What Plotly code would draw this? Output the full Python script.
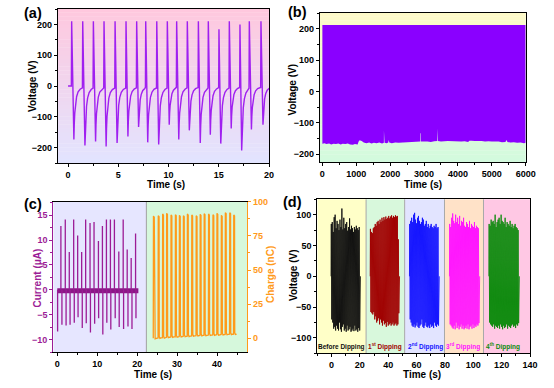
import plotly.graph_objects as go

FONT = "Liberation Sans, Arial, sans-serif"

# ---------------- data: panel (a) ----------------
a_pos_t = [0.36, 1.46, 2.52, 3.58, 4.68, 5.77, 6.83, 7.73, 8.83, 9.88, 10.81, 11.87, 12.97, 13.96, 15.02, 16.05, 17.11, 18.04, 19.20]
a_pos_v = [210, 210, 210, 210, 210, 210, 210, 210, 210, 210, 210, 210, 210, 210, 184, 210, 200, 210, 210]
a_neg_t = [0.58, 1.68, 2.74, 3.79, 4.88, 5.96, 7.02, 7.93, 9.02, 10.07, 11.02, 12.07, 13.16, 14.16, 15.20, 16.24, 17.28, 18.25, 19.40]
a_neg_v = [-174, -193, -180, -196, -185, -164, -133, -183, -190, -126, -174, -144, -185, -158, -187, -138, -209, -141, -126]
a_recov_dt = [0.0, 0.04, 0.09, 0.16, 0.27, 0.42, 0.62]
a_recov_frac = [1.0, 0.7, 0.5, 0.34, 0.2, 0.11, 0.06]
a_hold_frac = 0.035

# ---------------- data: panel (b) ----------------
b_top = 212
b_env_x = [0, 60, 120, 200, 260, 330, 400, 470, 540, 600, 680, 750, 820, 900, 960, 1040, 1070, 1100, 1160, 1220,
           1300, 1380, 1450, 1520, 1600, 1680, 1760, 1815, 1817, 1833, 1835, 1900, 1945, 1955, 1965, 1975, 2050,
           2150, 2250, 2350, 2450, 2550, 2650, 2750, 2890, 2892, 2906, 2908, 3000, 3100, 3200, 3300, 3390, 3392,
           3408, 3410, 3500, 3600, 3700, 3800, 3900, 4000, 4100, 4200, 4300, 4340, 4400, 4500, 4600, 4700, 4800,
           4900, 5000, 5100, 5200, 5300, 5400, 5440, 5460, 5550, 5650, 5750, 5850, 5950, 6000]
b_env_v = [-167, -165, -168, -166, -169, -167, -168, -166, -169, -167, -168, -166, -169, -170, -168, -169, -160, -156, -158, -163,
           -165, -163, -166, -164, -165, -163, -166, -164, -125, -125, -164, -165, -163, -155, -155, -163, -165,
           -163, -164, -162, -163, -161, -162, -161, -160, -133, -133, -160, -161, -160, -161, -159, -158, -119,
           -119, -158, -160, -159, -158, -159, -160, -159, -160, -159, -161, -157, -157, -158, -159, -158, -160,
           -159, -160, -161, -160, -162, -161, -155, -161, -163, -162, -164, -163, -165, -164]

# ---------------- data: panel (c) ----------------
c_pos_t = [0.9, 2.0, 3.0, 4.1, 5.1, 6.1, 7.1, 8.2, 9.2, 10.3, 11.3, 12.3, 13.3, 14.3, 15.4, 16.5, 17.5, 18.5, 19.6]
c_pos_v = [12.8, 14.1, 7.6, 14.1, 10.9, 7.6, 14.1, 13.4, 13.6, 9.8, 12.8, 14.1, 14.1, 14.1, 7.7, 14.1, 8.1, 6.4, 11.3]
c_neg_t = [0.08, 1.16, 2.2, 3.2, 4.25, 5.2, 6.25, 7.25, 8.3, 9.35, 10.35, 11.4, 12.4, 13.4, 14.5, 15.5, 16.6, 17.7, 18.7, 19.7]
c_neg_v = [-8.4, -7.0, -7.2, -7.0, -6.6, -5.5, -7.7, -6.7, -8.6, -6.8, -5.7, -9.0, -6.6, -8.0, -5.7, -7.5, -7.9, -7.4, -7.9, -5.7]
c_base_t = [0.0, 20.3]
c_base_v = [-0.2, -0.2]
c_split = 22.3

q_t = [24.2, 25.4, 26.5, 27.5, 28.6, 29.7, 30.7, 31.7, 32.7, 33.8, 34.9, 35.9, 36.9, 38.0, 39.1, 40.1, 41.2, 42.2, 43.3, 44.3]
q_peak = [89.5, 89.8, 91.0, 91.5, 90.3, 90.5, 90.0, 89.8, 91.0, 90.3, 89.8, 90.8, 91.2, 91.0, 90.5, 91.5, 90.0, 92.0, 92.0, 90.3]
q_base = [0.0, 0.3, 0.5, 0.8, 1.0, 1.1, 1.3, 1.5, 1.6, 1.8, 2.0, 2.1, 2.2, 2.4, 2.5, 2.6, 2.8, 2.9, 3.0, 3.1]

# ---------------- data: panel (d) ----------------
d_names = ["Before Dipping", "1<sup>st</sup> Dipping", "2<sup>nd</sup> Dipping", "3<sup>rd</sup> Dipping", "4<sup>th</sup> Dipping"]
d_label_x = [7.3, 37.7, 66.0, 93.0, 121.0]
d_label_y = -114.6
d_bounds = [-10, 24.4, 51.6, 79.7, 107.2, 140]
d_start = [-0.3, 27.3, 55.0, 83.2, 111.0]
d_end = [20.4, 48.0, 76.0, 104.5, 132.5]
d_pos = [
    [85, 88, 72, 96, 100, 78, 90, 85, 75, 92, 80, 110, 76, 95, 78, 85, 88, 74, 80, 94, 76, 82, 78, 72, 80, 76, 82, 78, 75, 80],
    [77, 72, 70, 78, 80, 85, 82, 88, 90, 85, 92, 88, 95, 90, 96, 92, 97, 93, 95, 98, 94, 97, 99, 95, 98, 96, 99, 97, 98, 60],
    [85, 90, 95, 88, 100, 103, 92, 86, 95, 98, 90, 85, 88, 95, 92, 82, 85, 90, 80, 85, 78, 82, 85, 80, 78, 82, 80, 85, 78, 80],
    [85, 80, 95, 102, 90, 86, 100, 88, 95, 85, 98, 82, 90, 88, 95, 82, 80, 88, 85, 80, 90, 78, 85, 82, 80, 88, 78, 82, 80, 78],
    [85, 82, 92, 88, 90, 85, 100, 80, 88, 92, 95, 85, 100, 90, 88, 85, 95, 80, 88, 85, 82, 90, 80, 85, 78, 82, 85, 80, 78, 75],
]
d_neg = [
    [-70, -75, -85, -82, -88, -80, -85, -88, -75, -86, -90, -82, -78, -88, -85, -90, -80, -88, -86, -82, -90, -88, -85, -89, -80, -88, -86, -90, -84, -88],
    [-58, -60, -62, -58, -70, -65, -75, -72, -68, -78, -70, -75, -80, -72, -78, -76, -82, -74, -80, -78, -76, -80, -78, -75, -80, -78, -76, -80, -78, -60],
    [-70, -75, -80, -82, -78, -83, -80, -75, -82, -84, -80, -78, -70, -82, -84, -80, -75, -82, -83, -80, -84, -78, -82, -80, -84, -75, -80, -82, -78, -80],
    [-78, -80, -83, -85, -80, -86, -75, -84, -80, -86, -82, -78, -85, -80, -86, -84, -80, -85, -78, -86, -82, -80, -85, -78, -84, -80, -82, -78, -80, -76],
    [-75, -78, -80, -82, -78, -85, -80, -82, -84, -80, -85, -78, -82, -86, -80, -84, -82, -78, -85, -80, -82, -84, -80, -78, -82, -80, -84, -78, -80, -76],
]
d_colors = ["#111111", "#a00000", "#1414ff", "#ff14ff", "#0c8a0c"]
d_bg = ["#ffffc8", "#d8f8dc", "#e2e4ff", "#ffe2c8", "#ffc8e4"]

# ---------------- layout constants (pixels of the 554x388 page) ----------------
W, H = 554, 388
A_X, A_Y = [58 / W, 269 / W], [1 - 163 / H, 1 - 9 / H]
B_X, B_Y = [320 / W, 525.7 / W], [1 - 162 / H, 1 - 13 / H]
C_X, C_Y = [53.3 / W, 247 / W], [1 - 352 / H, 1 - 201.7 / H]
D_X, D_Y = [317.3 / W, 530 / W], [1 - 353.3 / H, 1 - 199.3 / H]
PURPLE_C = "#9c1c96"
ORANGE = "#ff9a1a"

fig = go.Figure()

# ----- panel (a) trace -----
ax_t = [0.0, a_pos_t[0] - 0.03]
ax_v = [0.0, 0.0]
for i in range(len(a_pos_t)):
    if i > 0:
        ax_t.append(a_pos_t[i] - 0.03)
        ax_v.append(a_neg_v[i - 1] * a_hold_frac)
    ax_t.append(a_pos_t[i])
    ax_v.append(a_pos_v[i])
    for dt, fr in zip(a_recov_dt, a_recov_frac):
        ax_t.append(a_neg_t[i] + dt)
        ax_v.append(a_neg_v[i] * fr)
fig.add_trace(go.Scatter(x=ax_t, y=ax_v, mode="lines", line=dict(color="#a020f0", width=1.4),
                         xaxis="x", yaxis="y", showlegend=False, hoverinfo="skip"))

# ----- panel (b) trace -----
fig.add_trace(go.Scatter(x=[b_env_x[0], b_env_x[-1]] + b_env_x[::-1], y=[b_top, b_top] + b_env_v[::-1],
                         mode="lines", fill="toself", fillcolor="#8a00ff", line=dict(width=0, color="#8a00ff"),
                         xaxis="x2", yaxis="y2", showlegend=False, hoverinfo="skip"))

# ----- panel (c) traces -----
fig.add_trace(go.Scatter(x=c_base_t, y=c_base_v, mode="lines", line=dict(color="#8a1886", width=5),
                         xaxis="x3", yaxis="y3", showlegend=False, hoverinfo="skip"))
sx, sy = [], []
for t, v in list(zip(c_neg_t, c_neg_v)) + list(zip(c_pos_t, c_pos_v)):
    sx += [t, t, None]
    sy += [0, v, None]
fig.add_trace(go.Scatter(x=sx, y=sy, mode="lines", line=dict(color=PURPLE_C, width=1.3),
                         xaxis="x3", yaxis="y3", showlegend=False, hoverinfo="skip"))
qx, qy = [], []
for t, p, b in zip(q_t, q_peak, q_base):
    qx += [t - 0.17, t - 0.12, t + 0.08, t + 0.13, t + 0.3, t + 0.6]
    qy += [b, p, p - 0.8, b + 1.0, b - 0.3, b]
fig.add_trace(go.Scatter(x=qx, y=qy, mode="lines", line=dict(color=ORANGE, width=1.3),
                         xaxis="x3", yaxis="y4", showlegend=False, hoverinfo="skip"))

# ----- panel (d) traces -----
for k in range(5):
    n = len(d_pos[k])
    step = (d_end[k] - d_start[k]) / (2 * n + 1)
    xs = [d_start[k]]
    ys = [0]
    for j in range(n):
        xs += [d_start[k] + (2 * j + 0.5) * step, d_start[k] + (2 * j + 1.5) * step]
        ys += [d_pos[k][j], d_neg[k][j]]
    xs.append(d_end[k])
    ys.append(0)
    fig.add_trace(go.Scatter(x=xs, y=ys, mode="lines", line=dict(color=d_colors[k], width=0.9),
                             xaxis="x4", yaxis="y5", showlegend=False, hoverinfo="skip"))

# ----- background shapes -----
shapes = []


def lerp(c0, c1, f):
    return "rgb(%d,%d,%d)" % tuple(round(c0[i] + (c1[i] - c0[i]) * f) for i in range(3))


def gradient(axname, c_top, c_bot, n=40):
    for s in range(n):
        shapes.append(dict(type="rect", xref=axname[0] + " domain", yref=axname[1] + " domain",
                           x0=0, x1=1, y0=s / n, y1=(s + 1) / n + 0.002, layer="below",
                           fillcolor=lerp(c_bot, c_top, (s + 0.5) / n), line=dict(width=0)))


gradient(("x", "y"), (255, 200, 222), (226, 228, 255))
gradient(("x2", "y2"), (255, 250, 200), (210, 250, 222))
shapes.append(dict(type="rect", xref="x3", yref="y3 domain", x0=-1, x1=c_split, y0=0, y1=1,
                   layer="below", fillcolor="#e6e6ff", line=dict(width=0)))
shapes.append(dict(type="rect", xref="x3", yref="y3 domain", x0=c_split, x1=47.5, y0=0, y1=1,
                   layer="below", fillcolor="#d6f8dc", line=dict(width=0)))
shapes.append(dict(type="line", xref="x3", yref="y3 domain", x0=c_split, x1=c_split, y0=0, y1=1,
                   layer="below", line=dict(color="#a0a0a0", width=1)))
for k in range(5):
    shapes.append(dict(type="rect", xref="x4", yref="y5 domain", x0=d_bounds[k], x1=d_bounds[k + 1],
                       y0=0, y1=1, layer="below", fillcolor=d_bg[k], line=dict(width=0)))
for k in range(1, 5):
    shapes.append(dict(type="line", xref="x4", yref="y5 domain", x0=d_bounds[k], x1=d_bounds[k],
                       y0=0, y1=1, layer="below", line=dict(color="#a8a8a8", width=1)))

# ----- annotations -----
annotations = []


def ptxt(text, px, py, size, color="black", angle=0):
    annotations.append(dict(text=text, xref="paper", yref="paper", x=px / W, y=1 - py / H,
                            xanchor="center", yanchor="middle", showarrow=False, textangle=angle,
                            font=dict(family=FONT, size=size, color=color, weight="bold")))


for txt, px, py in [("(a)", 33, 13), ("(b)", 297, 12.5), ("(c)", 33, 203.5), ("(d)", 292.5, 202)]:
    ptxt(txt, px, py, 14.5)

# axis titles
ptxt("Time (s)", 166, 184, 10)
ptxt("Voltage (V)", 33, 87, 10, angle=-90)
ptxt("Time (s)", 423, 184, 10)
ptxt("Voltage (V)", 291.5, 90, 10, angle=-90)
ptxt("Time (s)", 153, 374, 10)
ptxt("Current (μA)", 36.5, 278, 10, PURPLE_C, angle=-90)
ptxt("Charge (nC)", 270, 275, 10, ORANGE, angle=-90)
ptxt("Time (s)", 421.5, 374, 10)
ptxt("Voltage (V)", 293, 276, 10, angle=-90)

for k in range(5):
    annotations.append(dict(text=d_names[k], xref="x4", yref="y5", x=d_label_x[k], y=d_label_y,
                            xanchor="center", yanchor="middle", showarrow=False,
                            font=dict(family=FONT, size=6.5, color=d_colors[k], weight="bold")))


def tfont(color="black"):
    return dict(family=FONT, size=9, color=color, weight="bold")


def axis(domain, anchor, rng, dtick, mdtick, color="black", mirror=True, **kw):
    d = dict(domain=domain, anchor=anchor, range=rng, dtick=dtick, tick0=0, showline=True,
             linecolor=color, linewidth=1.2, mirror=mirror, ticks="outside", ticklen=3, tickwidth=1.2,
             tickcolor=color, showgrid=False, zeroline=False, tickfont=tfont(color), automargin=False,
             minor=dict(dtick=mdtick, ticks="outside", ticklen=2, tickwidth=1, tickcolor=color))
    d.update(kw)
    return d


fig.update_layout(
    width=W, height=H, autosize=False,
    margin=dict(l=0, r=0, t=0, b=0),
    paper_bgcolor="white", plot_bgcolor="white",
    showlegend=False,
    shapes=shapes, annotations=annotations,
    xaxis=axis(A_X, "y", [-1, 20], 5, 2.5),
    yaxis=axis(A_Y, "x", [-250, 250], 100, 50),
    xaxis2=axis(B_X, "y2", [-70, 6000], 1000, 500),
    yaxis2=axis(B_Y, "x2", [-225, 250], 100, 50),
    xaxis3=axis(C_X, "y3", [-1, 47.5], 10, 5),
    yaxis3=axis(C_Y, "x3", [-12.5, 17.7], 5, 2.5, color=PURPLE_C, mirror=False),
    yaxis4=axis(C_Y, "x3", [-10, 100], 25, 12.5, color=ORANGE, mirror=False, overlaying="y3", side="right"),
    xaxis4=axis(D_X, "y5", [-10, 140], 20, 10),
    yaxis5=axis(D_Y, "x4", [-125, 125], 50, 25),
)

fig.write_html("out.html", config={"displayModeBar": False},
               post_script="document.body.style.margin='0';document.body.style.padding='0';")
